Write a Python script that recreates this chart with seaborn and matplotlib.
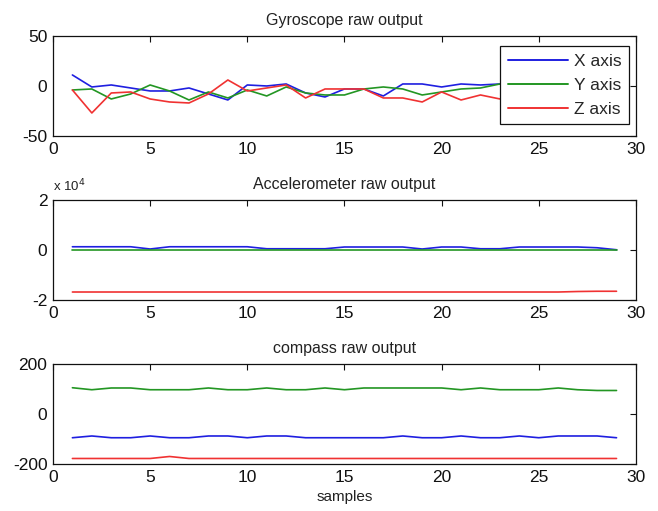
import numpy as np
import pandas as pd
import matplotlib
matplotlib.use("Agg")
import matplotlib.pyplot as plt
from matplotlib.ticker import FuncFormatter
import seaborn as sns

samples = list(range(1, 30))
series_names = ["X axis", "Y axis", "Z axis"]

gyro_x = [11, -1, 1, -2, -5, -5, -2, -8, -14, 1, 0, 2, -7, -11, -3, -3, -10, 2, 2,
          -1, 2, 1, 2, 1, 0, 1, 2, 1, 0]
gyro_y = [-4, -3, -13, -8, 1, -5, -14, -6, -12, -4, -10, -1, -7, -9, -9, -3, -1, -3,
          -9, -6, -3, -2, 2, 0, -1, 0, 1, -1, 0]
gyro_z = [-4, -27, -7, -6, -13, -16, -17, -8, 6, -5, -2, 1, -12, -3, -3, -3, -12,
          -12, -16, -6, -14, -9, -13, -10, -12, -9, -11, -10, -12]

acc_x = [1300, 1300, 1300, 1300, 400, 1300, 1300, 1300, 1300, 1300, 500, 500, 500,
         500, 1200, 1200, 1200, 1200, 400, 1200, 1200, 500, 500, 1200, 1200, 1200,
         1200, 900, 100]
acc_y = [-100] * 29
acc_z = [-16800] * 26 + [-16600, -16500, -16500]

comp_x = [-95, -88, -95, -95, -88, -95, -95, -88, -88, -95, -88, -88, -95, -95, -95,
          -95, -95, -88, -95, -95, -88, -95, -95, -88, -95, -88, -88, -88, -95]
comp_y = [105, 97, 104, 104, 97, 97, 97, 104, 97, 97, 104, 97, 97, 104, 97, 104, 104,
          104, 104, 104, 97, 104, 97, 97, 97, 104, 97, 94, 94]
comp_z = [-178, -178, -178, -178, -178, -170, -178, -178, -178, -178, -178, -178,
          -178, -178, -178, -178, -178, -178, -178, -178, -178, -178, -178, -178,
          -178, -178, -178, -178, -178]

colors = {"X axis": "#1f1fe0", "Y axis": "#239623", "Z axis": "#f03232"}


def long_form(xs, ys, zs):
    return pd.DataFrame({
        "sample": samples * 3,
        "value": xs + ys + zs,
        "axis": [n for n in series_names for _ in samples],
    })


sns.set_style("white")
plt.rcParams["font.family"] = ["Liberation Sans Narrow", "Liberation Sans", "DejaVu Sans"]
plt.rcParams["axes.unicode_minus"] = False

fig = plt.figure(figsize=(6.58, 5.11), dpi=100)
left, width, height = 0.0805, 0.886, 0.1957
bottoms = [0.7339, 0.4129, 0.092]
axes = [fig.add_axes([left, b, width, height]) for b in bottoms]

panels = [
    ("Gyroscope raw output", long_form(gyro_x, gyro_y, gyro_z), (-50, 50), [-50, 0, 50]),
    ("Accelerometer raw output", long_form(acc_x, acc_y, acc_z), (-20000, 20000), [-20000, 0, 20000]),
    ("compass raw output", long_form(comp_x, comp_y, comp_z), (-200, 200), [-200, 0, 200]),
]

for i, (ax, (title, df, ylim, yticks)) in enumerate(zip(axes, panels)):
    sns.lineplot(data=df, x="sample", y="value", hue="axis", palette=colors,
                 linewidth=1.2, ax=ax, legend=(i == 0))
    ax.set_xlim(0, 30)
    ax.set_ylim(*ylim)
    ax.set_xticks([0, 5, 10, 15, 20, 25, 30])
    ax.set_yticks(yticks)
    ax.set_title(title, fontsize=11.5, color="#222222", pad=8)
    ax.set_ylabel("")
    ax.set_xlabel("")
    ax.tick_params(direction="in", length=4, width=0.8, top=True, right=True,
                   labelsize=12.5, colors="#111111", pad=4)
    for s in ax.spines.values():
        s.set_color("#111111")
        s.set_linewidth(0.9)

axes[1].yaxis.set_major_formatter(FuncFormatter(lambda v, p: f"{v / 1e4:g}"))
axes[1].text(0.0, 1.06, "x 10$^4$", transform=axes[1].transAxes, fontsize=9.5,
             ha="left", va="bottom", color="#222222")
axes[2].set_xlabel("samples", fontsize=11, color="#222222", labelpad=4)

leg = axes[0].legend(loc="upper right", fontsize=12.5, frameon=True, fancybox=False,
                     edgecolor="#111111", handlelength=3.5, borderpad=0.45,
                     labelspacing=0.5, handletextpad=0.3, borderaxespad=0,
                     bbox_to_anchor=(0.988, 0.90))
leg.get_frame().set_linewidth(0.9)
leg.get_frame().set_alpha(1.0)
for line in leg.get_lines():
    line.set_linewidth(1.4)

fig.savefig("out.png", dpi=100)
